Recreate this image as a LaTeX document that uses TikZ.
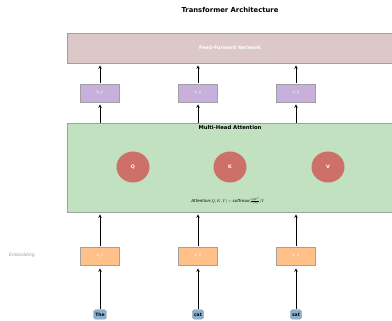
\documentclass[tikz,border=0pt]{standalone}
\usepackage{fontspec}
\setmainfont{DejaVu Sans}
\usepackage{tikz}
\usetikzlibrary{arrows,shapes,positioning}
\definecolor{ffncol}{HTML}{DCC8C8}
\definecolor{mhacol}{HTML}{C1E1C1}
\definecolor{hidcol}{HTML}{C8B0DC}
\definecolor{qkvcol}{HTML}{CD7067}
\definecolor{embcol}{HTML}{FFC08A}
\definecolor{tokcol}{HTML}{8CB0D0}
\definecolor{framecol}{HTML}{A0A0A0}

\begin{document}
\begin{tikzpicture}[x=1pt, y=-1pt]
% STYLES
\tikzset{%
    layer/.style={%
        rectangle, draw=framecol, line width=0.6pt, minimum width=328pt,
        inner sep=0pt
    },
    vecbox/.style={%
        rectangle, draw=framecol, line width=0.6pt, minimum width=39pt,
        minimum height=18pt, inner sep=0pt, text=white, font=\fontsize{3.8}{4.5}\selectfont
    },
    head/.style={%
        ellipse, fill=qkvcol, minimum width=33pt, minimum height=31pt,
        inner sep=0pt, text=white, font=\fontsize{4.8}{5.5}\selectfont\bfseries
    },
    token/.style={%
        rectangle, rounded corners=1.8pt, fill=tokcol, draw=tokcol!60!gray,
        line width=0.4pt, inner sep=1.8pt, minimum height=9.5pt,
        font=\fontsize{4.5}{5}\selectfont\bfseries
    },
    flow/.style={->, >=stealth, line width=0.6pt}
}
\useasboundingbox (0,0) rectangle (392,321);
% Title
\node[font=\fontsize{6.8}{8}\selectfont\bfseries] (title) at (230,10) {Transformer Architecture};
% Layers
\node[layer, fill=ffncol, minimum height=30pt] (ffn) at (231,48) {};
\node[text=white, font=\fontsize{4.8}{5.5}\selectfont\bfseries] (ffntext) at (230,48) {Feed-Forward Network};
\node[layer, fill=mhacol, minimum height=89pt] (mha) at (231,167.5) {};
\node[font=\fontsize{5.3}{6}\selectfont\bfseries] (mhatitle) at (230,127.5) {Multi-Head Attention};
% Heads
\node[head] (q) at (133,167) {Q};
\node[head] (k) at (230,167) {K};
\node[head] (v) at (328,167) {V};
\node[inner sep=0pt] (formula) at (228,201)
    {\scalebox{0.41}{$\mathit{Attention}(Q,K,V)=\mathit{softmax}(\frac{QK^T}{\sqrt{d_k}})V$}};
% Hidden and embedding vectors
\foreach \i/\x in {1/100, 2/198, 3/296} {
    \node[vecbox, fill=hidcol] (h\i) at (\x,93) {h\_\i};
    \node[vecbox, fill=embcol] (e\i) at (\x,256) {e\_\i};
}
\node[text=gray!80, font=\fontsize{4.5}{5}\selectfont\itshape] (emblabel) at (22,255) {Embedding};
% Tokens
\node[token] (tok1) at (100,314.5) {The};
\node[token] (tok2) at (198,314.5) {cat};
\node[token] (tok3) at (296,314.5) {sat};
% Draw the flow
\foreach \i in {1,2,3} {
    \draw[flow] ([yshift=1pt]tok\i.north) -- ([yshift=-3pt]e\i.south);
    \draw[flow] ([yshift=1pt]e\i.north) -- ([yshift=-2pt]e\i.north |- mha.south);
    \draw[flow] (h\i |- mha.north) -- ([yshift=-2pt]h\i.south);
    \draw[flow] ([yshift=1pt]h\i.north) -- ([yshift=-2pt]h\i.north |- ffn.south);
}
\end{tikzpicture}
\end{document}
